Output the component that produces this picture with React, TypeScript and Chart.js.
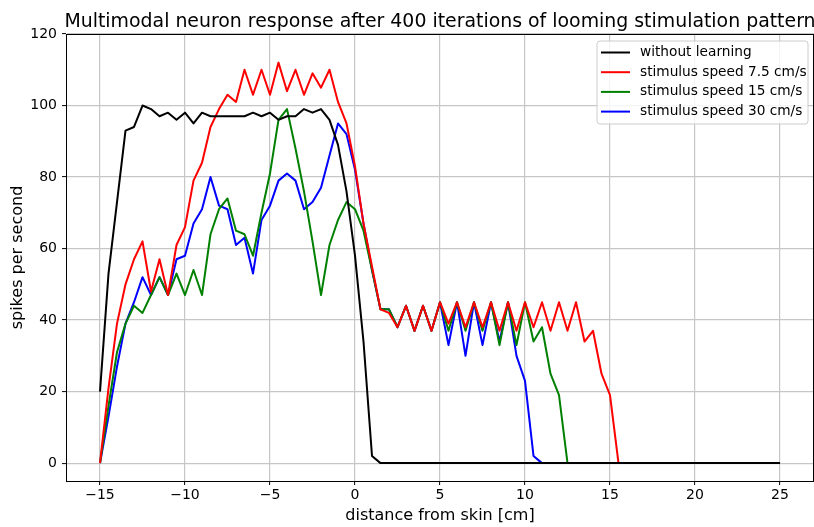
import React, { useEffect, useRef } from "react";
import { Chart, registerables } from "chart.js";

Chart.register(...registerables);

const distance = [
  -15, -14.5, -14, -13.5, -13, -12.5, -12, -11.5, -11, -10.5, -10, -9.5, -9, -8.5, -8, -7.5, -7, -6.5, -6, -5.5,
  -5, -4.5, -4, -3.5, -3, -2.5, -2, -1.5, -1, -0.5, 0, 0.5, 1, 1.5, 2, 2.5, 3, 3.5, 4, 4.5,
  5, 5.5, 6, 6.5, 7, 7.5, 8, 8.5, 9, 9.5, 10, 10.5, 11, 11.5, 12, 12.5, 13, 13.5, 14, 14.5,
  15, 15.5, 16, 16.5, 17, 17.5, 18, 18.5, 19, 19.5, 20, 20.5, 21, 21.5, 22, 22.5, 23, 23.5, 24, 24.5, 25,
];

const withoutLearning = [
  20, 53, 73, 93, 94, 100, 99, 97, 98, 96, 98, 95, 98, 97, 97, 97, 97, 97, 98, 97,
  98, 96, 97, 97, 99, 98, 99, 96, 89, 76, 58, 34, 2, 0, 0, 0, 0, 0, 0, 0,
  0, 0, 0, 0, 0, 0, 0, 0, 0, 0, 0, 0, 0, 0, 0, 0, 0, 0, 0, 0,
  0, 0, 0, 0, 0, 0, 0, 0, 0, 0, 0, 0, 0, 0, 0, 0, 0, 0, 0, 0, 0,
];

const speed75 = [
  0, 21, 39, 50, 57, 62, 48, 57, 47, 61, 66, 79, 84, 94, 99, 103, 101, 110, 103, 110,
  103, 112, 104, 110, 103, 109, 105, 110, 101, 95, 83, 67, 55, 43, 42, 38, 44, 37, 44, 37,
  45, 39, 45, 38, 45, 38, 45, 37, 45, 37, 45, 38, 45, 37, 45, 37, 45, 34, 37, 25,
  19, 0, 0, 0, 0, 0, 0, 0, 0, 0, 0, 0, 0, 0, 0, 0, 0, 0, 0, 0, 0,
];

const speed15 = [
  0, 16, 31, 39, 44, 42, 47, 52, 47, 53, 47, 54, 47, 64, 71, 74, 65, 64, 58, 70,
  81, 96, 99, 88, 76, 62, 47, 61, 68, 73, 71, 65, 54, 43, 43, 38, 44, 37, 44, 37,
  45, 37, 45, 37, 45, 37, 45, 33, 45, 33, 45, 34, 38, 25, 19, 0, 0, 0, 0, 0,
  0, 0, 0, 0, 0, 0, 0, 0, 0, 0, 0, 0, 0, 0, 0, 0, 0, 0, 0, 0, 0,
];

const speed30 = [
  0, 13, 27, 39, 45, 52, 47, 52, 47, 57, 58, 67, 71, 80, 72, 71, 61, 63, 53, 68,
  72, 79, 81, 79, 71, 73, 77, 86, 95, 92, 82, 67, 54, 43, 43, 38, 44, 37, 44, 37,
  45, 33, 45, 30, 45, 33, 45, 34, 45, 30, 23, 2, 0, 0, 0, 0, 0, 0, 0, 0,
  0, 0, 0, 0, 0, 0, 0, 0, 0, 0, 0, 0, 0, 0, 0, 0, 0, 0, 0, 0, 0,
];

const seriesLabels = [
  "without learning",
  "stimulus speed 7.5 cm/s",
  "stimulus speed 15 cm/s",
  "stimulus speed 30 cm/s",
];
const seriesColors = ["#000000", "#ff0000", "#008000", "#0000ff"];
const seriesValues = [withoutLearning, speed75, speed15, speed30];

const xTicks = [-15, -10, -5, 0, 5, 10, 15, 20, 25];
const yTicks = [0, 20, 40, 60, 80, 100, 120];

const titleText = "Multimodal neuron response after 400 iterations of looming stimulation pattern";
const xTitle = "distance from skin [cm]";
const yTitle = "spikes per second";

const FONT = "'DejaVu Sans', sans-serif";

const fmt = (v: number) => (v < 0 ? "\u2212" + String(-v) : String(v));

const framePlugin = {
  id: "frameAndExtras",
  afterDraw(chart: any) {
    const { ctx, chartArea } = chart;
    const { left, right, top, bottom } = chartArea;
    ctx.save();
    // frame
    ctx.strokeStyle = "#000";
    ctx.lineWidth = 1;
    ctx.strokeRect(left + 0.5, top + 0.5, right - left - 1, bottom - top);
    // title
    ctx.fillStyle = "#000";
    ctx.font = `18.9px ${FONT}`;
    ctx.textAlign = "center";
    ctx.textBaseline = "alphabetic";
    ctx.fillText(titleText, (left + right) / 2, top - 7);
    // legend
    const boxRight = right - 6;
    const boxTop = top + 7;
    const boxW = 211;
    const boxH = 83;
    const boxLeft = boxRight - boxW;
    ctx.beginPath();
    const r = 3;
    ctx.moveTo(boxLeft + r, boxTop);
    ctx.lineTo(boxRight - r, boxTop);
    ctx.quadraticCurveTo(boxRight, boxTop, boxRight, boxTop + r);
    ctx.lineTo(boxRight, boxTop + boxH - r);
    ctx.quadraticCurveTo(boxRight, boxTop + boxH, boxRight - r, boxTop + boxH);
    ctx.lineTo(boxLeft + r, boxTop + boxH);
    ctx.quadraticCurveTo(boxLeft, boxTop + boxH, boxLeft, boxTop + boxH - r);
    ctx.lineTo(boxLeft, boxTop + r);
    ctx.quadraticCurveTo(boxLeft, boxTop, boxLeft + r, boxTop);
    ctx.closePath();
    ctx.fillStyle = "rgba(255,255,255,0.8)";
    ctx.fill();
    ctx.strokeStyle = "#cccccc";
    ctx.lineWidth = 1;
    ctx.stroke();
    ctx.font = `13.7px ${FONT}`;
    ctx.textAlign = "left";
    ctx.textBaseline = "middle";
    chart.data.datasets.forEach((ds: any, i: number) => {
      const y = boxTop + 11.5 + i * 19.7;
      ctx.strokeStyle = ds.borderColor;
      ctx.lineWidth = 2;
      ctx.beginPath();
      ctx.moveTo(boxLeft + 4, y);
      ctx.lineTo(boxLeft + 33, y);
      ctx.stroke();
      ctx.fillStyle = "#000";
      ctx.fillText(ds.label, boxLeft + 43, y);
    });
    ctx.restore();
  },
};

export default function App() {
  const canvasRef = useRef<HTMLCanvasElement | null>(null);

  useEffect(() => {
    const canvas = canvasRef.current;
    if (!canvas) return;
    const datasets = seriesValues.map((vals, i) => ({
      label: seriesLabels[i],
      data: vals.map((v, j) => ({ x: distance[j], y: v })),
      borderColor: seriesColors[i],
      backgroundColor: seriesColors[i],
      borderWidth: 2,
      pointRadius: 0,
      tension: 0,
      fill: false,
      borderJoinStyle: "round" as const,
    }));
    const chart = new Chart(canvas, {
      type: "line",
      data: { datasets },
      plugins: [framePlugin],
      options: {
        animation: false,
        responsive: true,
        maintainAspectRatio: false,
        layout: { padding: { top: 34, right: 0, left: 0, bottom: 0 } },
        plugins: {
          legend: { display: false },
          title: { display: false },
          tooltip: { enabled: false },
        },
        scales: {
          x: {
            type: "linear",
            min: -17,
            max: 27,
            afterBuildTicks: (scale: any) => {
              scale.ticks = xTicks.map((v) => ({ value: v }));
            },
            afterFit: (scale: any) => {
              scale.height = 46;
            },
            ticks: {
              autoSkip: false,
              maxRotation: 0,
              padding: 2,
              color: "#000",
              font: { family: FONT, size: 14 },
              callback: (v: any) => fmt(Number(v)),
            },
            grid: { color: "#c6c6c6", lineWidth: 1.2, tickColor: "#000", tickLength: 4, tickWidth: 1 },
            border: { color: "#000", width: 1 },
            title: {
              display: true,
              text: xTitle,
              color: "#000",
              font: { family: FONT, size: 16 },
              padding: { top: 0, bottom: 2 },
            },
          },
          y: {
            type: "linear",
            min: -5,
            max: 120,
            afterBuildTicks: (scale: any) => {
              scale.ticks = yTicks.map((v) => ({ value: v }));
            },
            afterFit: (scale: any) => {
              scale.width = 66;
            },
            ticks: {
              autoSkip: false,
              padding: 5,
              color: "#000",
              font: { family: FONT, size: 14 },
              callback: (v: any) => fmt(Number(v)),
            },
            grid: { color: "#c6c6c6", lineWidth: 1.2, tickColor: "#000", tickLength: 4, tickWidth: 1 },
            border: { color: "#000", width: 1 },
            title: {
              display: true,
              text: yTitle,
              color: "#000",
              font: { family: FONT, size: 16 },
              padding: { top: 8, bottom: 0 },
            },
          },
        },
      },
    });
    return () => chart.destroy();
  }, []);

  return (
    <div style={{ position: "absolute", left: 0, top: 0, width: 814, height: 527, background: "#fff" }}>
      <canvas ref={canvasRef} />
    </div>
  );
}
